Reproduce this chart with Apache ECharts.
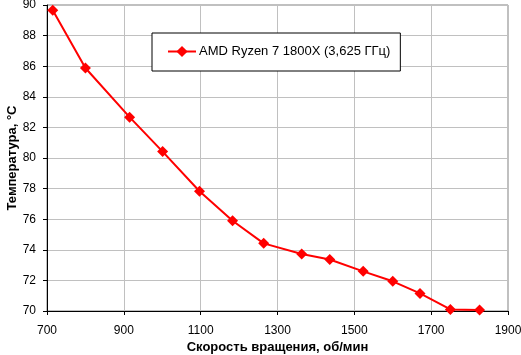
<!DOCTYPE html>
<html><head><meta charset="utf-8">
<script src="https://cdn.jsdelivr.net/npm/echarts@6/dist/echarts.min.js"></script>
<style>html,body{margin:0;padding:0;background:#fff}#c{width:521px;height:355px}</style>
</head><body><div id="c"></div>
<script>
const seriesName = 'AMD Ryzen 7 1800X (3,625 ГГц)';
const rpm = [715, 800, 915, 1001, 1097, 1183, 1264, 1363, 1436, 1523, 1600, 1671, 1750, 1826];
const temp = [89.65, 85.88, 82.67, 80.42, 77.83, 75.9, 74.42, 73.72, 73.37, 72.59, 71.94, 71.15, 70.1, 70.07];
const xTitle = 'Скорость вращения, об/мин';
const yTitle = 'Температура, °C';

const font = 'Liberation Sans, Arial, sans-serif';
const chart = echarts.init(document.getElementById('c'));
chart.setOption({
  animation: false,
  backgroundColor: '#fff',
  grid: {left: 47, right: 13, top: 5, bottom: 44, show: true, borderColor: '#808080', borderWidth: 1,
         containLabel: false, outerBoundsMode: 'none'},
  legend: {
    left: 152, top: 33,
    padding: [12, 10, 13, 15],
    borderColor: '#000', borderWidth: 1, backgroundColor: '#fff', borderRadius: 0,
    itemWidth: 28, itemHeight: 14, itemGap: 4,
    textStyle: {fontFamily: font, fontSize: 13, color: '#000', padding: [0, 0, 0, -2]},
    data: [seriesName]
  },
  xAxis: {
    type: 'value', min: 700, max: 1900, interval: 200,
    name: xTitle, nameLocation: 'middle', nameGap: 30, nameMoveOverlap: false,
    nameTextStyle: {fontFamily: font, fontSize: 13, fontWeight: 'bold', color: '#000'},
    axisLine: {show: true, lineStyle: {color: '#000', width: 1}},
    axisTick: {show: true, inside: false, length: 4, lineStyle: {color: '#000'}},
    axisLabel: {fontFamily: font, fontSize: 12, color: '#000', margin: 14, formatter: v => String(v)},
    splitLine: {show: true, lineStyle: {color: '#c0c0c0', width: 1}}
  },
  yAxis: {
    type: 'value', min: 70, max: 90, interval: 2,
    name: yTitle, nameLocation: 'middle', nameGap: 28, nameRotate: 90, nameMoveOverlap: false,
    nameTextStyle: {fontFamily: font, fontSize: 13, fontWeight: 'bold', color: '#000'},
    axisLine: {show: true, lineStyle: {color: '#000', width: 1}},
    axisTick: {show: true, inside: false, length: 4, lineStyle: {color: '#000'}},
    axisLabel: {fontFamily: font, fontSize: 12, color: '#000', margin: 11},
    splitLine: {show: true, lineStyle: {color: '#c0c0c0', width: 1}}
  },
  series: [{
    name: seriesName, type: 'line',
    data: rpm.map((x, i) => [x, temp[i]]),
    symbol: 'diamond', symbolSize: 11,
    lineStyle: {color: '#ff0000', width: 2},
    itemStyle: {color: '#ff0000'}
  }]
});
</script></body></html>
